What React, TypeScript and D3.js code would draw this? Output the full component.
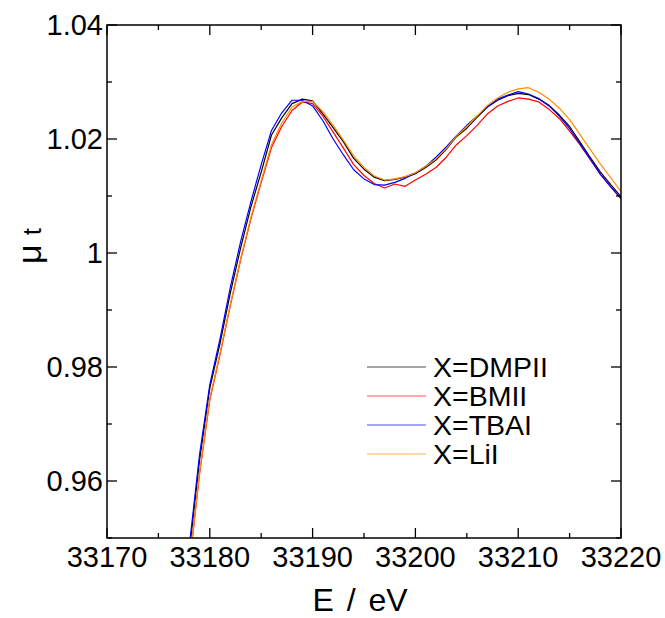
import React from "react";
import * as d3 from "d3";

// energy grid (eV)
const energy = [
  33177, 33178, 33179, 33180, 33181, 33182, 33183, 33184, 33185, 33186,
  33187, 33188, 33189, 33190, 33191, 33192, 33193, 33194, 33195, 33196,
  33197, 33198, 33199, 33200, 33201, 33202, 33203, 33204, 33205, 33206,
  33207, 33208, 33209, 33210, 33211, 33212, 33213, 33214, 33215, 33216,
  33217, 33218, 33219, 33220,
];

const dmpii = [
  0.9315, 0.9475, 0.9636, 0.9763, 0.9842, 0.993, 1.0009, 1.0081, 1.0142, 1.0207,
  1.0237, 1.0262, 1.027, 1.0267, 1.0244, 1.022, 1.0195, 1.0166, 1.0147, 1.0133,
  1.0127, 1.0129, 1.0133, 1.0139, 1.015, 1.0163, 1.0182, 1.0204, 1.0219, 1.0238,
  1.0256, 1.0268, 1.0276, 1.028, 1.0278, 1.027, 1.0259, 1.0242, 1.0222, 1.0195,
  1.0168, 1.0142, 1.012, 1.0099,
];

const bmii = [
  0.929, 0.945, 0.9612, 0.9742, 0.9822, 0.9908, 0.9988, 1.006, 1.0124, 1.0185,
  1.0222, 1.025, 1.0265, 1.0262, 1.024, 1.0212, 1.0184, 1.0155, 1.0136, 1.0122,
  1.0114, 1.0121, 1.0117, 1.0128, 1.0138, 1.015, 1.0168, 1.019, 1.0206, 1.0224,
  1.0244, 1.0258, 1.0266, 1.0272, 1.027, 1.0265, 1.0252, 1.0236, 1.0214, 1.019,
  1.0164, 1.0138, 1.0116, 1.0095,
];

const tbai = [
  0.9325, 0.9485, 0.9646, 0.9769, 0.985, 0.994, 1.002, 1.009, 1.0155, 1.0215,
  1.0246, 1.0268, 1.0268, 1.0258, 1.0232, 1.02, 1.0172, 1.0146, 1.013, 1.012,
  1.0119, 1.0124, 1.0131, 1.014, 1.0152, 1.0168, 1.0186, 1.0206, 1.0224, 1.024,
  1.0256, 1.027, 1.0277, 1.0283, 1.0279, 1.0271, 1.0258, 1.024, 1.0218, 1.0192,
  1.0165, 1.0138, 1.0116, 1.0096,
];

const lii = [
  0.9292, 0.9452, 0.9614, 0.9745, 0.9825, 0.991, 0.999, 1.0063, 1.0127, 1.019,
  1.0228, 1.0256, 1.0266, 1.0266, 1.0248, 1.0224, 1.0198, 1.017, 1.015, 1.0135,
  1.0128, 1.013, 1.0134, 1.0141, 1.0152, 1.0165, 1.0183, 1.0205, 1.0222, 1.024,
  1.0259, 1.0272, 1.0282, 1.0288, 1.029, 1.0282, 1.027, 1.0254, 1.0234, 1.0208,
  1.0182, 1.0156, 1.0132, 1.0108,
];

const seriesNames = ["X=DMPII", "X=BMII", "X=TBAI", "X=LiI"];
const seriesColors = ["#000000", "#ff0000", "#0000ff", "#ff8c00"];
const seriesValues = [dmpii, bmii, tbai, lii];

const xTicks = [33170, 33180, 33190, 33200, 33210, 33220];
const yTicks = [0.96, 0.98, 1, 1.02, 1.04];

const W = 665;
const H = 618;
const margin = { top: 25, right: 44, bottom: 80, left: 107 };
const font = "'Liberation Sans', Arial, sans-serif";

const App = () => {
  const iw = W - margin.left - margin.right;
  const ih = H - margin.top - margin.bottom;

  const x = d3.scaleLinear().domain([33170, 33220]).range([0, iw]);
  const y = d3.scaleLinear().domain([0.95, 1.04]).range([ih, 0]);

  const line = d3
    .line<number>()
    .x((_, i) => x(energy[i]))
    .y((d) => y(d));

  const xMinor = d3.range(33175, 33220, 10);
  const yMinor = d3.range(0.95, 1.04, 0.02).map((v) => +v.toFixed(2));

  const major = 10;
  const minor = 5;

  return (
    <svg
      width={W}
      height={H}
      style={{ position: "absolute", left: 0, top: 0, background: "#fff" }}
      fontFamily={font}
    >
      <defs>
        <clipPath id="plot">
          <rect x={0} y={0} width={iw} height={ih} />
        </clipPath>
      </defs>
      <g transform={`translate(${margin.left},${margin.top})`}>
        <g clipPath="url(#plot)">
          {seriesValues.map((vals, k) => (
            <path
              key={k}
              d={line(vals) || ""}
              fill="none"
              stroke={seriesColors[k]}
              strokeWidth={1.2}
              strokeLinejoin="round"
            />
          ))}
        </g>

        {/* frame */}
        <rect x={0} y={0} width={iw} height={ih} fill="none" stroke="#000" strokeWidth={1.5} />

        {/* x ticks */}
        {xTicks.map((t) => (
          <g key={"x" + t}>
            <line x1={x(t)} x2={x(t)} y1={ih} y2={ih - major} stroke="#000" strokeWidth={1.3} />
            <line x1={x(t)} x2={x(t)} y1={0} y2={major} stroke="#000" strokeWidth={1.3} />
            <text x={x(t)} y={ih + 29} textAnchor="middle" fontSize={29}>
              {t}
            </text>
          </g>
        ))}
        {xMinor.map((t) => (
          <g key={"xm" + t}>
            <line x1={x(t)} x2={x(t)} y1={ih} y2={ih - minor} stroke="#000" strokeWidth={1.3} />
            <line x1={x(t)} x2={x(t)} y1={0} y2={minor} stroke="#000" strokeWidth={1.3} />
          </g>
        ))}

        {/* y ticks */}
        {yTicks.map((t) => (
          <g key={"y" + t}>
            <line x1={0} x2={major} y1={y(t)} y2={y(t)} stroke="#000" strokeWidth={1.3} />
            <line x1={iw} x2={iw - major} y1={y(t)} y2={y(t)} stroke="#000" strokeWidth={1.3} />
            <text x={-4} y={y(t) + 10} textAnchor="end" fontSize={29}>
              {t === 1 ? "1" : t.toFixed(2)}
            </text>
          </g>
        ))}
        {yMinor.map((t) => (
          <g key={"ym" + t}>
            <line x1={0} x2={minor} y1={y(t)} y2={y(t)} stroke="#000" strokeWidth={1.3} />
            <line x1={iw} x2={iw - minor} y1={y(t)} y2={y(t)} stroke="#000" strokeWidth={1.3} />
          </g>
        ))}

        {/* legend */}
        {seriesNames.map((name, k) => (
          <g key={name} transform={`translate(260,${342 + k * 29})`}>
            <line x1={0} x2={59} y1={0} y2={0} stroke={seriesColors[k]} strokeWidth={1} opacity={0.7} />
            <text x={66} y={10} fontSize={28.5}>
              {name}
            </text>
          </g>
        ))}
      </g>

      {/* axis titles */}
      <text x={360} y={611} textAnchor="middle" fontSize={32} wordSpacing={4}>
        E / eV
      </text>
      <text transform="translate(41,246) rotate(-90)" textAnchor="middle" fontSize={34}>
        μ<tspan fontSize={26} fontWeight={300} dx={9}>t</tspan>
      </text>
    </svg>
  );
};

export default App;
